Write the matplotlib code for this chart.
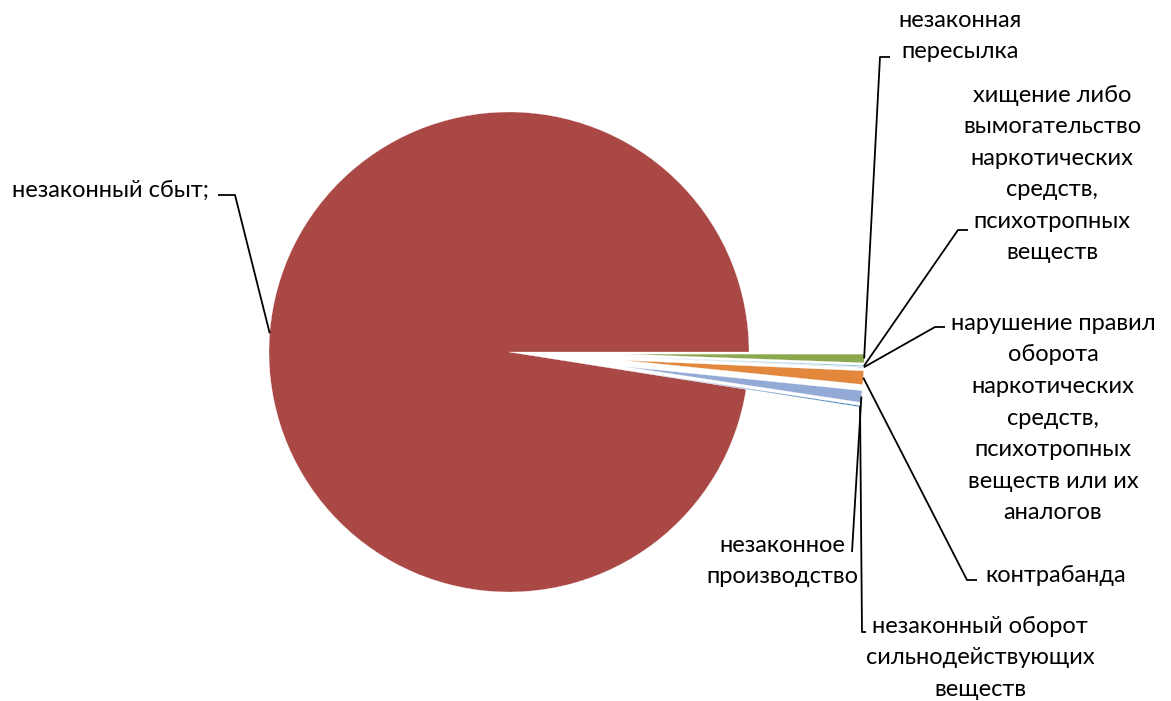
import numpy as np
import matplotlib
matplotlib.use("Agg")
import matplotlib.pyplot as plt

plt.rcParams['font.family'] = ['Lato', 'DejaVu Sans']

# data (counterclockwise from 3 o'clock)
labels = ["незаконный сбыт;",
          "незаконный оборот\nсильнодействующих\nвеществ",
          "незаконное\nпроизводство",
          "контрабанда",
          "нарушение правил\nоборота\nнаркотических\nсредств,\nпсихотропных\nвеществ или их\nаналогов",
          "хищение либо\nвымогательство\nнаркотических\nсредств,\nпсихотропных\nвеществ",
          "незаконная\nпересылка"]
values = [1550, 1.5, 12.5, 14.5, 0.35, 1.5, 9.2]
colors = ["#A94845", "#4F81BD", "#94AAD6", "#E2873B", "#8064A2", "#93CDDD", "#8BA84F"]
explode = [0, 0.48, 0.48, 0.48, 0.48, 0.48, 0.48]

# label placement (pixel position of text anchor, alignment, leader knee in pixels)
W, H = 1171, 701
CX, CY, R = 509, 352, 240
label_pos = [(12, 190, "left", [(235, 195), (218, 195)]),
             (866, 658, "left", [(862, 632), (866, 632)]),
             (858, 561, "right", [(852, 552)]),
             (985, 575, "left", [(967, 580), (977, 580)]),
             (1053, 418, "center", [(935, 327), (945, 327)]),
             (1052, 174, "center", [(958, 230), (968, 230)]),
             (960, 36, "center", [(880, 57), (890, 57)])]

fig = plt.figure(figsize=(W / 100, H / 100), dpi=100)
ax = fig.add_axes([0, 0, 1, 1])
wedges, _ = ax.pie(values, colors=colors, explode=explode, startangle=0,
                   counterclock=True, radius=1,
                   wedgeprops=dict(edgecolor="white", linewidth=0.2))
ax.set_xlim(-CX / R, (W - CX) / R)
ax.set_ylim(-(H - CY) / R, CY / R)
ax.axis("off")


def px(x, y):
    return (x - CX) / R, (CY - y) / R


for w, lab, (tx, ty, ha, knee) in zip(wedges, labels, label_pos):
    mid = np.deg2rad((w.theta1 + w.theta2) / 2)
    ax_, ay_ = w.center[0] + w.r * np.cos(mid), w.center[1] + w.r * np.sin(mid)
    pts = [(ax_, ay_)] + [px(*k) for k in knee]
    xs, ys = zip(*pts)
    ax.plot(xs, ys, color="black", lw=1.3, solid_capstyle="butt")
    x, y = px(tx, ty)
    ax.text(x, y, lab, ha=ha, va="center", multialignment="center",
            fontsize=17, linespacing=1.62, color="#000000")

fig.savefig("out.png", dpi=100)
